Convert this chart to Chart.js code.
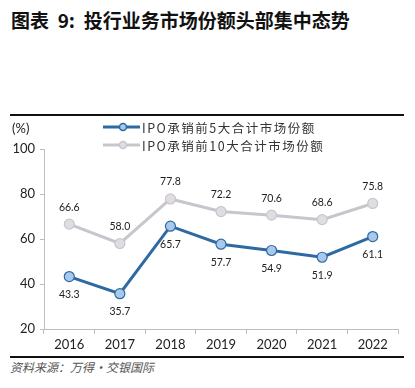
<!DOCTYPE html>
<html>
<head>
<meta charset="utf-8">
<script src="https://cdn.jsdelivr.net/npm/chart.js@4/dist/chart.umd.min.js"></script>
<style>
  body { margin: 0; width: 415px; height: 388px; background: #fff; position: relative; overflow: hidden; font-family: "Noto Sans CJK SC", sans-serif; }
  #title { position: absolute; left: 11px; top: 6px; font-size: 19px; font-weight: bold; color: #111; white-space: nowrap; }
  .rule { position: absolute; left: 10px; width: 394px; background: #111; }
  #source { position: absolute; left: 10px; top: 358px; font-size: 12px; font-style: italic; color: #555; }
  #wrap { position: absolute; left: 0; top: 115px; width: 415px; height: 240px; }
</style>
</head>
<body>
<div id="title">图表&nbsp; 9:&nbsp; 投行业务市场份额头部集中态势</div>
<div class="rule" style="top:114px;height:2px"></div>
<div id="wrap"><canvas id="grafico"></canvas></div>
<div class="rule" style="top:356px;height:2px"></div>
<div id="source">资料来源：万得・交银国际</div>
<script>
// datos del gráfico
const anios = ["2016", "2017", "2018", "2019", "2020", "2021", "2022"];
const top5 = [43.3, 35.7, 65.7, 57.7, 54.9, 51.9, 61.1];
const top10 = [66.6, 58.0, 77.8, 72.2, 70.6, 68.6, 75.8];
const nombres = ["IPO承销前5大合计市场份额", "IPO承销前10大合计市场份额"];
const yTicks = [20, 40, 60, 80, 100];

const azul = "#2d6aa3";
const gris = "#c9c5cc";
const numFont = "Lato, 'Liberation Sans', sans-serif";

// etiquetas de datos + leyenda + unidad
const extras = {
  id: "extras",
  afterDatasetsDraw(chart) {
    const ctx = chart.ctx;
    ctx.save();
    ctx.font = "10.5px " + numFont;
    ctx.fillStyle = "#222";
    ctx.textAlign = "center";
    ctx.textBaseline = "middle";
    chart.getDatasetMeta(1).data.forEach((p, i) => {
      ctx.fillText(top10[i].toFixed(1), p.x, p.y - 17);
    });
    chart.getDatasetMeta(0).data.forEach((p, i) => {
      ctx.fillText(top5[i].toFixed(1), p.x, p.y + 18);
    });

    // unidad
    ctx.font = "13px " + numFont;
    ctx.textAlign = "left";
    ctx.fillText("(%)", 12, 14);

    // leyenda
    const items = [
      { txt: nombres[0], line: azul, fill: "#a8c9ea", y: 12 },
      { txt: nombres[1], line: gris, fill: "#e0dde2", y: 30 }
    ];
    items.forEach(it => {
      ctx.strokeStyle = it.line;
      ctx.lineWidth = 3;
      ctx.beginPath();
      ctx.moveTo(103, it.y);
      ctx.lineTo(140, it.y);
      ctx.stroke();
      ctx.beginPath();
      ctx.arc(123, it.y, 3.5, 0, Math.PI * 2);
      ctx.fillStyle = it.fill;
      ctx.fill();
      ctx.lineWidth = 1.5;
      ctx.stroke();
      ctx.fillStyle = "#333";
      ctx.font = "12.5px 'Noto Sans CJK SC', sans-serif";
      ctx.letterSpacing = "1.5px";
      ctx.fillText(it.txt, 142, it.y + 1);
      ctx.letterSpacing = "0px";
    });
    ctx.restore();
  }
};

new Chart(document.getElementById("grafico").getContext("2d"), {
  type: "line",
  data: {
    labels: anios,
    datasets: [{
      label: nombres[0],
      data: top5,
      borderColor: azul,
      borderWidth: 3,
      backgroundColor: "#a8c9ea",
      pointBackgroundColor: "#a8c9ea",
      pointBorderColor: azul,
      pointBorderWidth: 1.2,
      pointRadius: 5,
      tension: 0,
      order: 1
    }, {
      label: nombres[1],
      data: top10,
      borderColor: gris,
      borderWidth: 3,
      backgroundColor: "#e0dde2",
      pointBackgroundColor: "#e0dde2",
      pointBorderColor: gris,
      pointBorderWidth: 1.2,
      pointRadius: 5,
      tension: 0,
      order: 2
    }]
  },
  options: {
    responsive: true,
    maintainAspectRatio: false,
    animation: false,
    layout: { padding: { left: 0, right: 17, top: 34, bottom: 0 } },
    plugins: { legend: { display: false }, tooltip: { enabled: false } },
    scales: {
      x: {
        offset: true,
        grid: { display: true, drawOnChartArea: false, offset: true, tickLength: 5, color: "#bdbdbd" },
        border: { color: "#bdbdbd" },
        ticks: { color: "#222", font: { family: numFont, size: 13 }, padding: 3 },
        afterFit(s) { s.height = 26; }
      },
      y: {
        min: 20,
        max: 100,
        afterBuildTicks(s) { s.ticks = yTicks.map(v => ({ value: v })); },
        grid: { display: true, drawOnChartArea: false, tickLength: 4, color: "#bdbdbd" },
        border: { color: "#bdbdbd" },
        ticks: { color: "#222", font: { family: numFont, size: 13 }, padding: 5 },
        afterFit(s) { s.width = 44; }
      }
    }
  },
  plugins: [extras]
});
</script>
</body>
</html>
